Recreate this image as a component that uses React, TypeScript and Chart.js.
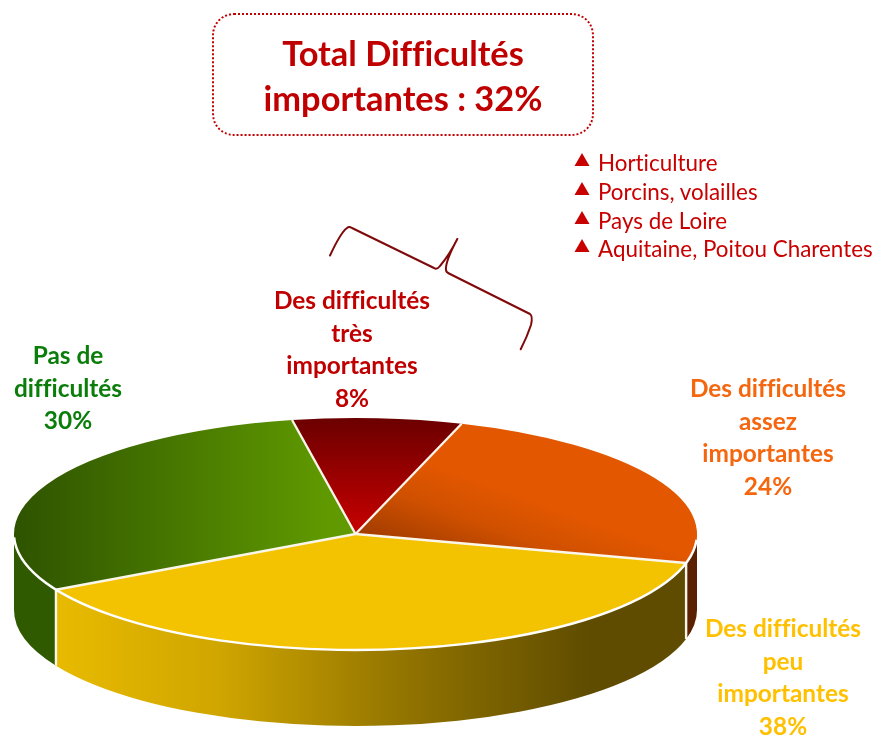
import React, { useEffect, useRef } from "react";
import { Chart, registerables } from "chart.js";

Chart.register(...registerables);

const categories = [
  "Des difficultés très importantes",
  "Des difficultés assez importantes",
  "Des difficultés peu importantes",
  "Pas de difficultés",
];
const values = [8, 24, 38, 30];
const labelLines = [
  ["Des difficultés", "très", "importantes"],
  ["Des difficultés", "assez", "importantes"],
  ["Des difficultés", "peu", "importantes"],
  ["Pas de", "difficultés"],
];
const labelColors = ["#C00000", "#F4670F", "#FFC000", "#0A7D0A"];
const labelCenters = [
  [352, 284],
  [768, 372],
  [783, 612],
  [68, 339],
];
const titleLines = ["Total Difficultés", "importantes : 32%"];
const notes = ["Horticulture", "Porcins, volailles", "Pays de Loire", "Aquitaine, Poitou Charentes"];
const noteTops = [148, 177, 206, 234];

const W = 876;
const H = 735;
const CY = 534;
const RY = 116;
const DEPTH = 76;
const ROTATION = -10.7;
const FONT = "Lato, sans-serif";

export default function App() {
  const ref = useRef<HTMLCanvasElement | null>(null);

  useEffect(() => {
    const canvas = ref.current!;
    const c = canvas.getContext("2d")!;
    const radius = 341.5;
    const squash = RY / radius;
    const srcY = radius; // chart-space centre y
    const toChartY = (y: number) => srcY + (y - CY) / squash;

    const red = c.createLinearGradient(0, toChartY(418), 0, toChartY(533));
    red.addColorStop(0, "#6B0000");
    red.addColorStop(1, "#C80000");
    const orange = c.createLinearGradient(365, toChartY(535), 505, toChartY(490));
    orange.addColorStop(0, "#A23C00");
    orange.addColorStop(0.55, "#CF5000");
    orange.addColorStop(1, "#E35700");
    const green = c.createLinearGradient(14, 0, 330, 0);
    green.addColorStop(0, "#2E5300");
    green.addColorStop(1, "#609A00");
    const fills = [red, orange, "#F3C200", green];

    const yellowWall = c.createLinearGradient(57, 0, 590, 0);
    yellowWall.addColorStop(0, "#E8BA00");
    yellowWall.addColorStop(0.3, "#D0A600");
    yellowWall.addColorStop(0.65, "#927400");
    yellowWall.addColorStop(1, "#5F4C00");
    const wallFills = ["#5A0000", "#5A2000", yellowWall, "#2F5A00"];

    const visible = (a0: number, a1: number): [number, number][] => {
      const out: [number, number][] = [];
      for (const k of [-2, 0, 2]) {
        const lo = Math.max(a0, k * Math.PI);
        const hi = Math.min(a1, k * Math.PI + Math.PI);
        if (hi > lo) out.push([lo, hi]);
      }
      return out;
    };

    const pie3d = {
      id: "pie3d",
      beforeDatasetsDraw(chart: any) {
        const ctx = chart.ctx;
        const arcs = chart.getDatasetMeta(0).data;
        const cx = arcs[0].x;
        arcs.forEach((arc: any, i: number) => {
          visible(arc.startAngle, arc.endAngle).forEach(([a0, a1]) => {
            ctx.beginPath();
            ctx.ellipse(cx, CY, arc.outerRadius, RY, 0, a0, a1);
            ctx.ellipse(cx, CY + DEPTH, arc.outerRadius, RY, 0, a1, a0, true);
            ctx.closePath();
            ctx.fillStyle = wallFills[i];
            ctx.fill();
          });
        });
        ctx.save();
        ctx.translate(0, CY);
        ctx.scale(1, squash);
        ctx.translate(0, -arcs[0].y);
      },
      afterDatasetsDraw(chart: any) {
        const ctx = chart.ctx;
        ctx.restore();
        const arcs = chart.getDatasetMeta(0).data;
        const cx = arcs[0].x;
        const R = arcs[0].outerRadius;
        ctx.save();
        ctx.strokeStyle = "#FBF6EA";
        ctx.lineWidth = 2.4;
        arcs.forEach((arc: any) => {
          const a = arc.startAngle;
          const px = cx + R * Math.cos(a);
          const py = CY + RY * Math.sin(a);
          ctx.beginPath();
          ctx.moveTo(cx, CY);
          ctx.lineTo(px, py);
          ctx.stroke();
          if (Math.sin(a) > 0) {
            ctx.beginPath();
            ctx.moveTo(px, py);
            ctx.lineTo(px, py + DEPTH);
            ctx.stroke();
          }
        });
        ctx.strokeStyle = "#FFFFFF";
        ctx.lineWidth = 2.4;
        ctx.beginPath();
        ctx.ellipse(cx, CY, R, RY, 0, 0.05, Math.PI - 0.03);
        ctx.stroke();

        // bracket
        ctx.strokeStyle = "#7F0A0A";
        ctx.lineWidth = 2;
        ctx.lineCap = "round";
        ctx.lineJoin = "round";
        ctx.beginPath();
        ctx.moveTo(330, 255.5);
        ctx.quadraticCurveTo(341, 232, 347, 228);
        ctx.quadraticCurveTo(349, 226, 352, 228);
        ctx.lineTo(434, 268);
        ctx.quadraticCurveTo(437, 270, 440, 266);
        ctx.quadraticCurveTo(450, 254, 457.3, 239);
        ctx.quadraticCurveTo(445, 262, 446, 270);
        ctx.quadraticCurveTo(446, 272, 449, 273.5);
        ctx.lineTo(530, 314);
        ctx.quadraticCurveTo(533, 316, 531, 325);
        ctx.quadraticCurveTo(527, 337, 520.7, 349.3);
        ctx.stroke();
        ctx.restore();
      },
    };

    const chart = new Chart(canvas, {
      type: "doughnut",
      data: {
        labels: categories,
        datasets: [
          {
            data: values,
            backgroundColor: fills as any,
            borderWidth: 0,
            clip: false as any,
          },
        ],
      },
      options: {
        responsive: false,
        animation: false,
        cutout: 0,
        rotation: ROTATION,
        layout: { padding: { left: 14, right: W - 697, top: 0, bottom: H - 683 } },
        plugins: { legend: { display: false }, tooltip: { enabled: false } },
      },
      plugins: [pie3d],
    });
    return () => chart.destroy();
  }, []);

  return (
    <div style={{ position: "absolute", left: 0, top: 0, width: W, height: H, overflow: "hidden", background: "#fff", fontFamily: FONT, fontVariantLigatures: "none" }}>
      <canvas ref={ref} width={W} height={H} style={{ position: "absolute", left: 0, top: 0, display: "block" }} />
      <div
        style={{
          position: "absolute",
          left: 212,
          top: 13,
          width: 382,
          height: 123,
          boxSizing: "border-box",
          border: "2px dotted #C00000",
          borderRadius: 22,
          color: "#C00000",
          fontWeight: 700,
          fontSize: 34.4,
          lineHeight: "45px",
          textAlign: "center",
          paddingTop: 15,
        }}
      >
        {titleLines.map((t) => (
          <div key={t}>{t}</div>
        ))}
      </div>
      {notes.map((n, i) => (
        <div key={n} style={{ position: "absolute", left: 574, top: noteTops[i], height: 29, lineHeight: "29px", color: "#C80000", fontSize: 22.4, whiteSpace: "nowrap" }}>
          <svg width={16} height={14} style={{ position: "absolute", left: 0, top: 5 }}>
            <polygon points="8,0 15.5,13 0.5,13" fill="#C80000" />
          </svg>
          <span style={{ marginLeft: 24 }}>{n}</span>
        </div>
      ))}
      {categories.map((cat, i) => (
        <div
          key={cat}
          style={{
            position: "absolute",
            left: labelCenters[i][0] - 100,
            top: labelCenters[i][1],
            width: 200,
            textAlign: "center",
            color: labelColors[i],
            fontWeight: 700,
            fontSize: 24.4,
            lineHeight: "32.7px",
            whiteSpace: "nowrap",
          }}
        >
          {labelLines[i].map((l) => (
            <div key={l}>{l}</div>
          ))}
          <div>{values[i]}%</div>
        </div>
      ))}
    </div>
  );
}
